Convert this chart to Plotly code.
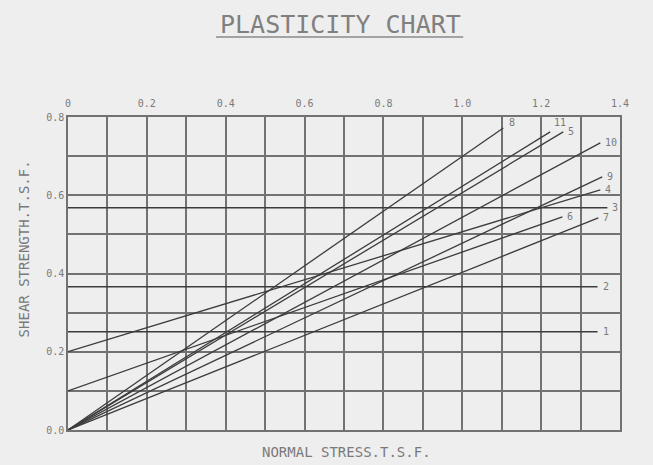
import plotly.graph_objects as go

# ---- data ----
line_ids = ["4", "5", "6", "7", "8", "9", "10", "11"]
intercepts = [0.2, 0.0, 0.1, 0.0, 0.0, 0.0, 0.0, 0.0]
end_x = [1.350, 1.256, 1.254, 1.345, 1.104, 1.355, 1.350, 1.223]
end_y = [0.614, 0.762, 0.545, 0.542, 0.772, 0.647, 0.734, 0.762]

flat_ids = ["1", "2", "3"]
flat_y = [0.251, 0.366, 0.568]
flat_end_x = [1.343, 1.343, 1.368]

x_tick_vals = [0, 0.2, 0.4, 0.6, 0.8, 1.0, 1.2, 1.4]
x_tick_text = ["0", "0.2", "0.4", "0.6", "0.8", "1.0", "1.2", "1.4"]
y_tick_vals = [0, 0.2, 0.4, 0.6, 0.8]
y_tick_text = ["0.0", "0.2", "0.4", "0.6", "0.8"]

# label offsets (pixels) – style only
label_shift = {"8": (4, 5), "11": (2, 9)}

FONT = "DejaVu Sans Mono"
TXT = "#7a7a7a"
LINE = "#3c3c3c"
GRID = "#727272"
BG = "#eeeeee"

fig = go.Figure()

for lid, c, ex, ey in zip(line_ids, intercepts, end_x, end_y):
    fig.add_trace(go.Scatter(x=[0, ex], y=[c, ey], mode="lines",
                             line=dict(color=LINE, width=1.3),
                             showlegend=False, hoverinfo="skip"))
for lid, yv, ex in zip(flat_ids, flat_y, flat_end_x):
    fig.add_trace(go.Scatter(x=[0, ex], y=[yv, yv], mode="lines",
                             line=dict(color=LINE, width=1.6),
                             showlegend=False, hoverinfo="skip"))

annotations = []
for lid, ex, ey in zip(line_ids + flat_ids, end_x + flat_end_x, end_y + flat_y):
    xs, ys = label_shift.get(lid, (3, 0))
    annotations.append(dict(x=ex, y=ey, xref="x", yref="y", text=lid,
                            showarrow=False, xanchor="left", yanchor="middle",
                            xshift=xs, yshift=ys,
                            font=dict(family=FONT, size=10, color=TXT)))

annotations += [
    dict(x=0.493, y=1.297, xref="paper", yref="paper", text="PLASTICITY CHART",
         showarrow=False, xanchor="center", yanchor="middle",
         font=dict(family=FONT, size=25, color="#808080")),
    dict(x=0.504, y=-0.070, xref="paper", yref="paper", text="NORMAL STRESS.T.S.F.",
         showarrow=False, xanchor="center", yanchor="middle",
         font=dict(family=FONT, size=14, color=TXT)),
    dict(x=-0.078, y=0.58, xref="paper", yref="paper", text="SHEAR STRENGTH.T.S.F.",
         showarrow=False, xanchor="center", yanchor="middle", textangle=-90,
         font=dict(family=FONT, size=14, color=TXT)),
]

fig.update_layout(
    width=653, height=465,
    margin=dict(l=68, r=33, t=117, b=35),
    paper_bgcolor=BG, plot_bgcolor=BG,
    annotations=annotations,
    shapes=[dict(type="line", xref="paper", yref="paper",
                 x0=0.268, x1=0.716, y0=1.2556, y1=1.2556,
                 line=dict(color="#8a8a8a", width=1.5))],
    xaxis=dict(range=[0, 1.4], side="top", tickmode="array",
               tickvals=x_tick_vals, ticktext=x_tick_text,
               showgrid=True, gridcolor=GRID, gridwidth=1.6,
               minor=dict(tickmode="linear", tick0=0, dtick=0.1, showgrid=True,
                          gridcolor=GRID, gridwidth=1.6),
               showline=True, linecolor=GRID, linewidth=1.6, mirror=True,
               zeroline=False, ticks="", ticklabelstandoff=4,
               tickfont=dict(family=FONT, size=10, color=TXT)),
    yaxis=dict(range=[0, 0.8], tickmode="array",
               tickvals=y_tick_vals, ticktext=y_tick_text,
               showgrid=True, gridcolor=GRID, gridwidth=1.6,
               minor=dict(tickmode="linear", tick0=0, dtick=0.1, showgrid=True,
                          gridcolor=GRID, gridwidth=1.6),
               showline=True, linecolor=GRID, linewidth=1.6, mirror=True,
               zeroline=False, ticks="",
               tickfont=dict(family=FONT, size=10, color=TXT)),
)

fig.write_html("out.html",
               config={"displayModeBar": False},
               post_script="document.body.style.margin='0';"
                           "document.body.style.background='#eeeeee';")
